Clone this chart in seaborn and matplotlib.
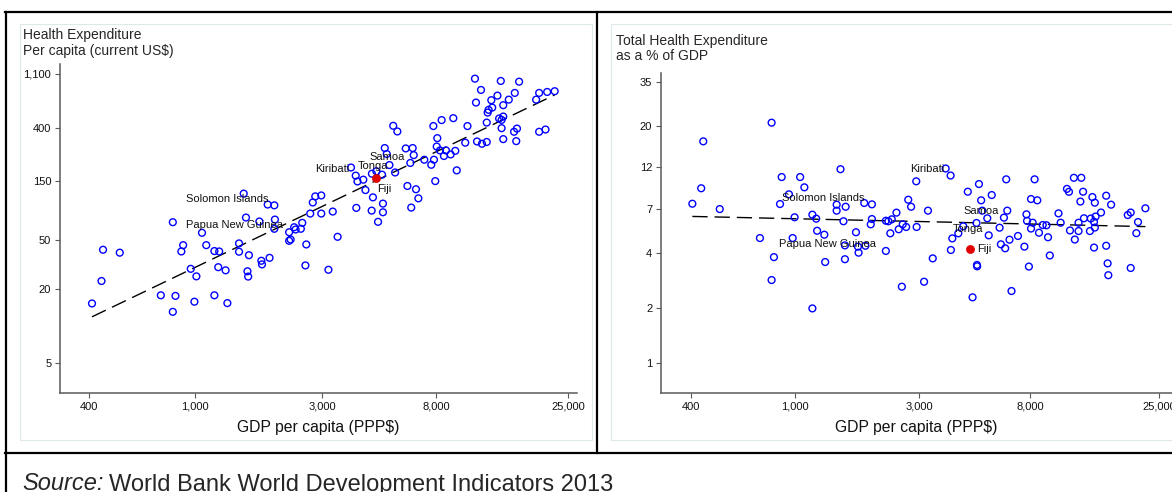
import numpy as np
import pandas as pd
import matplotlib
matplotlib.use("Agg")
import matplotlib.pyplot as plt
import seaborn as sns
from matplotlib.lines import Line2D
from matplotlib.patches import Rectangle
from matplotlib.ticker import FixedLocator, FixedFormatter, NullLocator

# ---------------- data ----------------
# Left panel: GDP per capita (PPP$) vs health expenditure per capita (current US$)
left_gdp = [410, 445, 451, 521, 743, 824, 824, 843, 887, 901, 962, 993, 1010, 1060,
            1100, 1180, 1180, 1220, 1230, 1300, 1320, 1460, 1460, 1520, 1550, 1570,
            1580, 1590, 1740, 1770, 1780, 1870, 1900, 1980, 1990, 1980, 2250, 2280,
            2250, 2350, 2380, 2490, 2520, 2610, 2590, 2700, 2760, 2820, 2970, 2970,
            3160, 3280, 3420, 3840, 4000, 4060, 4020, 4270, 4350, 4590, 4600, 4640,
            4780, 4850, 5020, 5060, 5060, 5140, 5230, 5350, 5530, 5620, 5730, 6160,
            6250, 6410, 6460, 6540, 6600, 6730, 6870, 7230, 7680, 7820, 7860, 7950,
            8050, 8090, 8280, 8400, 8570, 8720, 9080, 9290, 9450, 9570, 10300, 10500,
            11200, 11300, 11400, 11800, 11900, 12400, 12400, 12500, 12600, 12900,
            13000, 13600, 13800, 14000, 14100, 14100, 14300, 14300, 14300, 15000,
            15700, 15800, 16000, 16100, 16400, 19000, 19500, 19500, 20600, 20900, 22300]
left_health = [15.2, 23.1, 41.4, 39.2, 17.7, 69.2, 13.0, 17.5, 40.1, 45.1, 29.0, 15.7,
               25.2, 56.8, 45.1, 40.4, 17.7, 29.9, 40.1, 28.2, 15.3, 46.6, 39.9, 118,
               75.5, 27.7, 25.1, 37.4, 70.1, 33.7, 31.5, 96.2, 35.6, 94.8, 72.7, 61.2,
               57.4, 50.1, 48.9, 63.0, 60.4, 61.2, 68.4, 45.7, 30.9, 81.3, 100, 112,
               114, 81.3, 28.5, 84.4, 52.7, 192, 165, 148, 90.4, 153, 126, 85.9, 171,
               110, 179, 69.7, 168, 97.9, 83.3, 276, 247, 201, 418, 175, 376, 274, 136,
               209, 90.9, 276, 242, 128, 108, 222, 202, 416, 222, 149, 284, 332, 264,
               465, 238, 264, 245, 482, 262, 182, 305, 416, 1007, 645, 312, 816, 299,
               309, 444, 535, 563, 674, 587, 734, 479, 965, 467, 400, 614, 497, 326,
               681, 374, 772, 314, 397, 952, 681, 374, 772, 390, 786, 797]
fiji_left_gdp = 4750
fiji_left_health = 158

# Right panel: GDP per capita (PPP$) vs total health expenditure (% of GDP)
right_gdp = [405, 438, 446, 516, 736, 816, 816, 833, 879, 892, 951, 983, 1000, 1050,
             1090, 1170, 1170, 1210, 1220, 1300, 1310, 1450, 1450, 1500, 1540, 1560,
             1560, 1570, 1720, 1750, 1760, 1850, 1870, 1960, 1980, 1980, 2240, 2240,
             2290, 2330, 2360, 2460, 2510, 2580, 2600, 2680, 2730, 2800, 2930, 2940,
             3140, 3250, 3390, 3800, 3970, 3980, 4030, 4250, 4440, 4620, 4820, 4990,
             5010, 5020, 5100, 5200, 5250, 5490, 5560, 5710, 6120, 6190, 6360, 6430,
             6490, 6550, 6680, 6800, 7200, 7620, 7760, 7800, 7930, 8080, 8080, 8200,
             8340, 8540, 8670, 8960, 9260, 9390, 9540, 10300, 10500, 11100, 11300,
             11400, 11800, 11900, 12300, 12300, 12500, 12600, 12800, 12900, 13600,
             13700, 13900, 14200, 14100, 14200, 14300, 14100, 15000, 15700, 15700,
             15900, 16000, 16400, 19000, 19500, 19500, 20500, 20800, 22200]
right_share = [7.49, 9.11, 16.5, 7.00, 4.85, 20.9, 2.85, 3.81, 7.46, 10.5, 8.44, 4.85,
               6.31, 10.5, 9.22, 1.99, 6.52, 6.20, 5.32, 5.06, 3.58, 7.40, 6.86, 11.6,
               6.00, 4.42, 3.71, 7.21, 5.22, 4.35, 4.03, 7.56, 4.40, 5.77, 7.43, 6.17,
               6.04, 4.12, 6.00, 5.15, 6.15, 6.69, 5.42, 2.62, 5.77, 5.58, 7.88, 7.21,
               9.95, 5.58, 2.79, 6.86, 3.75, 11.7, 10.7, 4.17, 4.83, 5.15, 5.63, 8.72,
               2.29, 5.87, 3.45, 3.39, 9.61, 7.82, 6.86, 6.23, 5.02, 8.36, 5.53, 4.48,
               6.28, 4.26, 10.2, 6.86, 4.75, 2.48, 4.98, 4.35, 6.55, 6.03, 3.38, 7.95,
               5.47, 5.89, 10.2, 7.82, 5.19, 5.72, 5.70, 4.90, 3.89, 6.63, 5.89, 9.04,
               8.71, 5.34, 10.4, 4.76, 5.89, 5.30, 7.70, 10.4, 8.72, 6.23, 5.30, 6.21,
               8.15, 7.59, 5.96, 5.54, 6.37, 4.30, 6.70, 8.29, 4.40, 3.52, 3.03, 7.40,
               6.49, 6.70, 3.32, 5.16, 5.94, 7.07]
fiji_right_gdp = 4730
fiji_right_share = 4.20

# Country labels (label centre positions in data units)
label_names = ["Kiribati", "Tonga", "Samoa", "Fiji", "Solomon Islands", "Papua New Guinea"]
left_label_gdp = [3270, 4660, 5240, 5120, 1320, 1405]
left_label_val = [187, 197, 235, 129, 107.5, 65.9]
right_label_gdp = [3220, 4630, 5190, 5360, 1290, 1337]
right_label_val = [11.6, 5.44, 6.86, 4.20, 8.08, 4.48]

x_ticks = [400, 1000, 3000, 8000, 25000]
x_tick_labels = ["400", "1,000", "3,000", "8,000", "25,000"]
left_y_ticks = [5, 20, 50, 150, 400, 1100]
left_y_tick_labels = ["5", "20", "50", "150", "400", "1,100"]
right_y_ticks = [1, 2, 4, 7, 12, 20, 35]
right_y_tick_labels = ["1", "2", "4", "7", "12", "20", "35"]

left_title = ["Health Expenditure", "Per capita (current US$)"]
right_title = ["Total Health Expenditure", "as a % of GDP"]
x_label = "GDP per capita (PPP$)"
source_italic = "Source:"
source_text = "World Bank World Development Indicators 2013"

# ---------------- style ----------------
sns.set_style("white")
plt.rcParams["font.family"] = ["Liberation Sans", "DejaVu Sans"]

W, H = 1172, 492
fig = plt.figure(figsize=(W / 100, H / 100), dpi=100)


def fx(px):
    return px / W


def fy(py):
    return 1 - py / H


BLUE = "#0000ff"
RED = "#e00000"
AXC = "#5a5a5a"


def panel(ax, gdp, vals, fiji_gdp, fiji_val, xlim, ylim, yt, ytl, lab_x, lab_y):
    df = pd.DataFrame({"gdp": gdp, "val": vals})
    sns.scatterplot(data=df, x="gdp", y="val", ax=ax, marker="o", s=24,
                    facecolors="none", edgecolors=BLUE, linewidth=1.0, zorder=3)
    sns.scatterplot(x=[fiji_gdp], y=[fiji_val], ax=ax, marker="o", s=34,
                    color=RED, edgecolor=RED, linewidth=0.5, zorder=4)
    # log-log linear fit
    allx = np.log10(np.r_[gdp, fiji_gdp])
    ally = np.log10(np.r_[vals, fiji_val])
    b, a = np.polyfit(allx, ally, 1)
    xs = np.array([min(np.r_[gdp, fiji_gdp]), max(np.r_[gdp, fiji_gdp])])
    fit = pd.DataFrame({"gdp": xs, "val": 10 ** (a + b * np.log10(xs))})
    sns.lineplot(data=fit, x="gdp", y="val", ax=ax, color="black", linewidth=1.0,
                 dashes=False, zorder=2).lines[-1].set_dashes((11, 5))
    ax.set_xscale("log")
    ax.set_yscale("log")
    ax.set_xlim(*xlim)
    ax.set_ylim(*ylim)
    ax.xaxis.set_major_locator(FixedLocator(x_ticks))
    ax.xaxis.set_major_formatter(FixedFormatter(x_tick_labels))
    ax.yaxis.set_major_locator(FixedLocator(yt))
    ax.yaxis.set_major_formatter(FixedFormatter(ytl))
    ax.xaxis.set_minor_locator(NullLocator())
    ax.yaxis.set_minor_locator(NullLocator())
    ax.tick_params(axis="both", which="major", direction="out", length=3.8, width=0.8,
                   color=AXC, labelsize=8, pad=2.5, labelcolor="#111111")
    ax.tick_params(bottom=True, left=True)
    sns.despine(ax=ax)
    for s in ("left", "bottom"):
        ax.spines[s].set_color(AXC)
        ax.spines[s].set_linewidth(1.1)
    ax.set_xlabel(x_label, fontsize=11.3, labelpad=6, color="#111111")
    ax.set_ylabel("")
    ax.patch.set_alpha(0)
    for name, lx, ly in zip(label_names, lab_x, lab_y):
        ax.text(lx, ly, name, fontsize=8, ha="center", va="center", color="#111111",
                zorder=5)


# faint inner panel frames
fig.add_artist(Rectangle((fx(20), fy(440)), fx(592) - fx(20), fy(24) - fy(440),
                         transform=fig.transFigure, fill=False, ec="#dde8ea", lw=0.8))
fig.add_artist(Rectangle((fx(610.5), fy(440)), fx(1200) - fx(610.5), fy(24) - fy(440),
                         transform=fig.transFigure, fill=False, ec="#dde8ea", lw=0.8))

axL = fig.add_axes([fx(60), fy(393), fx(577) - fx(60), fy(64) - fy(393)])
panel(axL, left_gdp, left_health, fiji_left_gdp, fiji_left_health,
      (311, 27040), (2.86, 1324), left_y_ticks, left_y_tick_labels,
      left_label_gdp, left_label_val)

axR = fig.add_axes([fx(661), fy(393), fx(1172) - fx(661), fy(73) - fy(393)])
panel(axR, right_gdp, right_share, fiji_right_gdp, fiji_right_share,
      (307, 28090), (0.682, 39.2), right_y_ticks, right_y_tick_labels,
      right_label_gdp, right_label_val)

# panel titles
fig.text(fx(23), fy(39.5), left_title[0], fontsize=10, va="baseline", ha="left")
fig.text(fx(23), fy(54.5), left_title[1], fontsize=10, va="baseline", ha="left")
fig.text(fx(616), fy(45), right_title[0], fontsize=10, va="baseline", ha="left")
fig.text(fx(616), fy(59.5), right_title[1], fontsize=10, va="baseline", ha="left")

# outer frame lines
lw = 1.6
for (x0, y0, x1, y1) in [(5, 12, 1172, 12), (5.5, 12, 5.5, 492), (5, 453, 1172, 453),
                         (597, 12, 597, 453)]:
    fig.add_artist(Line2D([fx(x0), fx(x1)], [fy(y0), fy(y1)], transform=fig.transFigure,
                          color="black", lw=lw, solid_capstyle="projecting"))

# source line
t1 = fig.text(fx(22), fy(490.5), source_italic, fontsize=17, style="italic",
              va="baseline", ha="left")
fig.canvas.draw()
bb = t1.get_window_extent(renderer=fig.canvas.get_renderer())
fig.text(bb.x1 / W + fx(5.5), fy(490.5), source_text, fontsize=17, va="baseline",
         ha="left")

fig.savefig("out.png", dpi=100)
